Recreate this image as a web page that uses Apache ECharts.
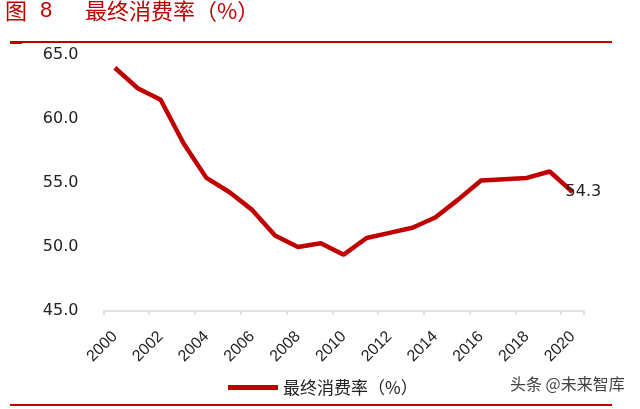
<!DOCTYPE html>
<html>
<head>
<meta charset="utf-8">
<script src="https://cdn.jsdelivr.net/npm/echarts@6/dist/echarts.min.js"></script>
<style>html,body{margin:0;padding:0;background:#fff;}#c{width:640px;height:409px;}</style>
</head>
<body>
<div id="c"></div>
<script>
var years = ['2000','2001','2002','2003','2004','2005','2006','2007','2008','2009','2010','2011','2012','2013','2014','2015','2016','2017','2018','2019','2020'];
var consumptionRate = [64.0,62.4,61.5,58.1,55.4,54.3,52.9,50.9,50.0,50.3,49.4,50.7,51.1,51.5,52.3,53.7,55.2,55.3,55.4,55.9,54.3];
var yTicks = [45, 50, 55, 60, 65];
var seriesName = '最终消费率（%）';

var chart = echarts.init(document.getElementById('c'));
var red = '#C00000';
var cjk = '"Noto Sans CJK SC", "Noto Sans", sans-serif';
var num = '"Liberation Sans", Arial, sans-serif';
var wide = '"DejaVu Sans", sans-serif';

var data = consumptionRate.map(function (v, i) {
  if (i === consumptionRate.length - 1) {
    return { value: v, label: { show: true } };
  }
  return v;
});

chart.setOption({
  animation: false,
  backgroundColor: '#fff',
  grid: { left: 103.4, right: 56, top: 55, bottom: 98, containLabel: false },
  legend: {
    data: [seriesName],
    left: 223, top: 374,
    icon: 'rect', itemWidth: 50, itemHeight: 5, itemGap: 10,
    textStyle: { fontFamily: cjk, fontSize: 17, color: '#222' }
  },
  xAxis: {
    type: 'category',
    data: years,
    boundaryGap: true,
    axisLine: { lineStyle: { color: '#d9d9d9', width: 1.5 } },
    axisTick: { show: true, interval: 1, length: 4, lineStyle: { color: '#d9d9d9', width: 1.5 } },
    axisLabel: { interval: 1, rotate: 45, fontFamily: num, fontSize: 16, color: '#222', margin: 23 }
  },
  yAxis: {
    type: 'value',
    min: yTicks[0], max: yTicks[yTicks.length - 1], interval: 5,
    axisLine: { show: false },
    axisTick: { show: false },
    splitLine: { show: false },
    axisLabel: {
      margin: 25, fontFamily: wide, fontSize: 16, color: '#222',
      formatter: function (v) { return v.toFixed(1); }
    }
  },
  series: [{
    name: seriesName,
    type: 'line',
    data: data,
    symbol: 'circle',
    symbolSize: 0,
    showSymbol: true,
    itemStyle: { color: red },
    lineStyle: { color: red, width: 4.5 },
    label: {
      show: false, position: 'right', distance: -7,
      fontFamily: wide, fontSize: 16, color: '#222',
      formatter: function (p) { return p.value.toFixed(1); }
    }
  }],
  graphic: [
    { type: 'text', left: 5, top: 0, style: { text: '图', font: '22px ' + cjk, fill: red } },
    { type: 'text', left: 40, top: 0, style: { text: '8', font: '22px ' + num, fill: red } },
    { type: 'text', left: 85, top: 0, style: { text: '最终消费率（%）', font: '22px ' + cjk, fill: red } },
    { type: 'rect', shape: { x: 10, y: 41, width: 602, height: 2 }, style: { fill: red } },
    { type: 'rect', shape: { x: 10, y: 41, width: 12, height: 3 }, style: { fill: red } },
    { type: 'rect', shape: { x: 10, y: 404, width: 602, height: 2 }, style: { fill: red } },
    { type: 'text', left: 510, top: 376, style: { text: '头条 @未来智库', font: '16px ' + cjk, fill: '#444' } }
  ]
});
</script>
</body>
</html>
